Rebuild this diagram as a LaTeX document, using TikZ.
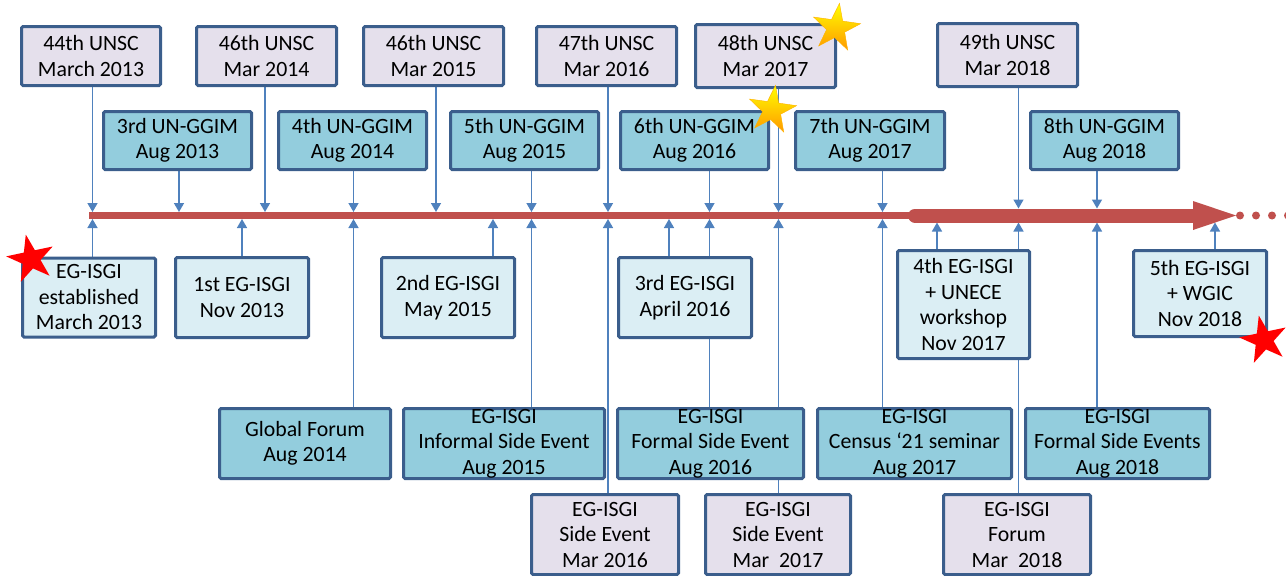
\documentclass[tikz,border=0pt]{standalone}
\usetikzlibrary{shapes.geometric,arrows.meta,backgrounds}
\usepackage{fontspec}
\setmainfont{Carlito}
\definecolor{LavFill}{HTML}{E5E0EC}
\definecolor{PaleFill}{HTML}{DBEEF4}
\definecolor{MidFill}{HTML}{93CDDD}
\definecolor{BoxLine}{HTML}{3B5E8C}
\definecolor{ArrowBlue}{HTML}{4F81BD}
\definecolor{TimeRed}{HTML}{C0504D}

\begin{document}
\begin{tikzpicture}[x=1pt,y=-1pt]
    \tikzset{BoxStyle/.style =   {draw=BoxLine,line width=3pt,rounded corners=1.5pt,align=center,inner sep=0pt,font=\fontsize{21.8}{25.5}\selectfont,fill=#1}}
    \tikzset{UnscBox/.style =   {BoxStyle=LavFill}}
    \tikzset{GgimBox/.style =   {BoxStyle=MidFill}}
    \tikzset{IsgiBox/.style =   {BoxStyle=PaleFill}}
    \tikzset{FlecheStyle/.style =   {draw=ArrowBlue,line width=1.5pt,-{Triangle[width=10pt,length=9pt]},shorten >=#1}}
    \tikzset{EtoileStyle/.style =   {star,star points=5,star point ratio=2.6,minimum size=50pt,inner sep=0pt,#1}}

    \useasboundingbox (0,0) rectangle (1286,576);

    % dates on the time line
    \foreach \n/\x in {d1303/92.5,d1308/179,d1311/242,d1403/265,d1408/353.5,
                       d1503/436,d1505/493,d1508/531.5,d1603/608,d1604/669,
                       d1608/709.5,d1703/778.5,d1708/882.5,d1711/937,
                       d1803/1018.5,d1808/1097,d1811/1215}
      \coordinate (\n) at (\x,215.5);

    \draw[TimeRed,line width=7pt] (89,215.5) -- (916,215.5);
    \draw[TimeRed,line width=14pt,line cap=round] (915,215.5) -- (1195,215.5);
    \fill[TimeRed] (1193,201) -- (1236,215.5) -- (1193,230) -- cycle;
    \foreach \x in {1240,1256,1272,1288}
      \fill[TimeRed] (\x,215.5) circle (4);

    % UNSC
    \node[UnscBox,minimum width=139pt,minimum height=59pt] (unsc44) at (91,56) {44th UNSC\\March 2013};
    \node[UnscBox,minimum width=140pt,minimum height=59pt] (unsc46a) at (266.5,56) {46th UNSC\\Mar 2014};
    \node[UnscBox,minimum width=140pt,minimum height=59pt] (unsc46b) at (433.5,56) {46th UNSC\\Mar 2015};
    \node[UnscBox,minimum width=140pt,minimum height=59pt] (unsc47) at (606.5,56) {47th UNSC\\Mar 2016};
    \node[UnscBox,minimum width=140pt,minimum height=63pt] (unsc48) at (765.5,56) {48th UNSC\\Mar 2017};
    \node[UnscBox,minimum width=140pt,minimum height=63pt] (unsc49) at (1007.5,55) {49th UNSC\\Mar 2018};

    % UN-GGIM
    \node[GgimBox,minimum width=148pt,minimum height=58pt] (ggim3) at (177.5,140.5) {3rd UN-GGIM\\Aug 2013};
    \node[GgimBox,minimum width=148pt,minimum height=58pt] (ggim4) at (352.5,140.5) {4th UN-GGIM\\Aug 2014};
    \node[GgimBox,minimum width=148pt,minimum height=58pt] (ggim5) at (524.5,140.5) {5th UN-GGIM\\Aug 2015};
    \node[GgimBox,minimum width=148pt,minimum height=58pt] (ggim6) at (694.5,140.5) {6th UN-GGIM\\Aug 2016};
    \node[GgimBox,minimum width=149pt,minimum height=58pt] (ggim7) at (870,140.5) {7th UN-GGIM\\Aug 2017};
    \node[GgimBox,minimum width=148pt,minimum height=58pt] (ggim8) at (1104.5,140.5) {8th UN-GGIM\\Aug 2018};

    % EG-ISGI meetings
    \node[IsgiBox,minimum width=133pt,minimum height=79pt] (est) at (89,297.5) {EG-ISGI\\established\\March 2013};
    \node[IsgiBox,minimum width=133pt,minimum height=80pt] (eg1) at (242,297.5) {1st EG-ISGI\\Nov 2013};
    \node[IsgiBox,minimum width=133pt,minimum height=80pt] (eg2) at (448,297.5) {2nd EG-ISGI\\May 2015};
    \node[IsgiBox,minimum width=133pt,minimum height=80pt] (eg3) at (685,297.5) {3rd EG-ISGI\\April 2016};
    \node[IsgiBox,minimum width=132pt,minimum height=108pt] (eg4) at (963.5,304.5) {4th EG-ISGI\\+ UNECE\\workshop\\Nov 2017};
    \node[IsgiBox,minimum width=133pt,minimum height=86pt] (eg5) at (1200,293.5) {5th EG-ISGI\\+ WGIC\\Nov 2018};

    % side events at UN-GGIM
    \node[GgimBox,minimum width=171pt,minimum height=70pt] (gf) at (305,443.5) {Global Forum\\Aug 2014};
    \node[GgimBox,minimum width=201pt,minimum height=70pt] (inf15) at (504,443.5) {EG-ISGI\\Informal Side Event\\Aug 2015};
    \node[GgimBox,minimum width=186pt,minimum height=70pt] (form16) at (710.5,443.5) {EG-ISGI\\Formal Side Event\\Aug 2016};
    \node[GgimBox,minimum width=194pt,minimum height=70pt] (cens17) at (914.5,443.5) {EG-ISGI\\Census ‘21 seminar\\Aug 2017};
    \node[GgimBox,minimum width=184pt,minimum height=70pt] (form18) at (1117.5,443.5) {EG-ISGI\\Formal Side Events\\Aug 2018};

    % side events at UNSC
    \node[UnscBox,minimum width=147pt,minimum height=80pt] (se16) at (605,534.5) {EG-ISGI\\Side Event\\Mar 2016};
    \node[UnscBox,minimum width=145pt,minimum height=80pt] (se17) at (778,534.5) {EG-ISGI\\Side Event\\Mar\ \ 2017};
    \node[UnscBox,minimum width=147pt,minimum height=80pt] (forum18) at (1017,534.5) {EG-ISGI\\Forum\\Mar\ \ 2018};

    \begin{scope}[on background layer]
      \foreach \b/\d in {unsc44/d1303,ggim3/d1308,unsc46a/d1403,ggim4/d1408,unsc46b/d1503,
                         ggim5/d1508,unsc47/d1603,ggim6/d1608,unsc48/d1703,ggim7/d1708}
        \draw[FlecheStyle=3.5pt] (\b.south -| \d) -- (\d);
      \foreach \b/\d in {unsc49/d1803,ggim8/d1808}
        \draw[FlecheStyle=7pt] (\b.south -| \d) -- (\d);
      \foreach \b/\d in {est/d1303,eg1/d1311,gf/d1408,eg2/d1505,inf15/d1508,se16/d1603,
                         eg3/d1604,form16/d1608,se17/d1703,cens17/d1708}
        \draw[FlecheStyle=3.5pt] (\b.north -| \d) -- (\d);
      \foreach \b/\d in {eg4/d1711,forum18/d1803,form18/d1808,eg5/d1811}
        \draw[FlecheStyle=7pt] (\b.north -| \d) -- (\d);
    \end{scope}

    \node[EtoileStyle={fill=red,rotate=12}] (starA) at (31,259) {};
    \node[EtoileStyle={fill=red,rotate=12}] (starB) at (1264,340) {};
    \node[EtoileStyle={top color=yellow,bottom color=orange!80!yellow,draw=orange!60!yellow,line width=0.4pt,rotate=-8}] (starC) at (836,28) {};
    \node[EtoileStyle={top color=yellow,bottom color=orange!80!yellow,draw=orange!60!yellow,line width=0.4pt,rotate=-8}] (starD) at (772,110) {};
\end{tikzpicture}
\end{document}
